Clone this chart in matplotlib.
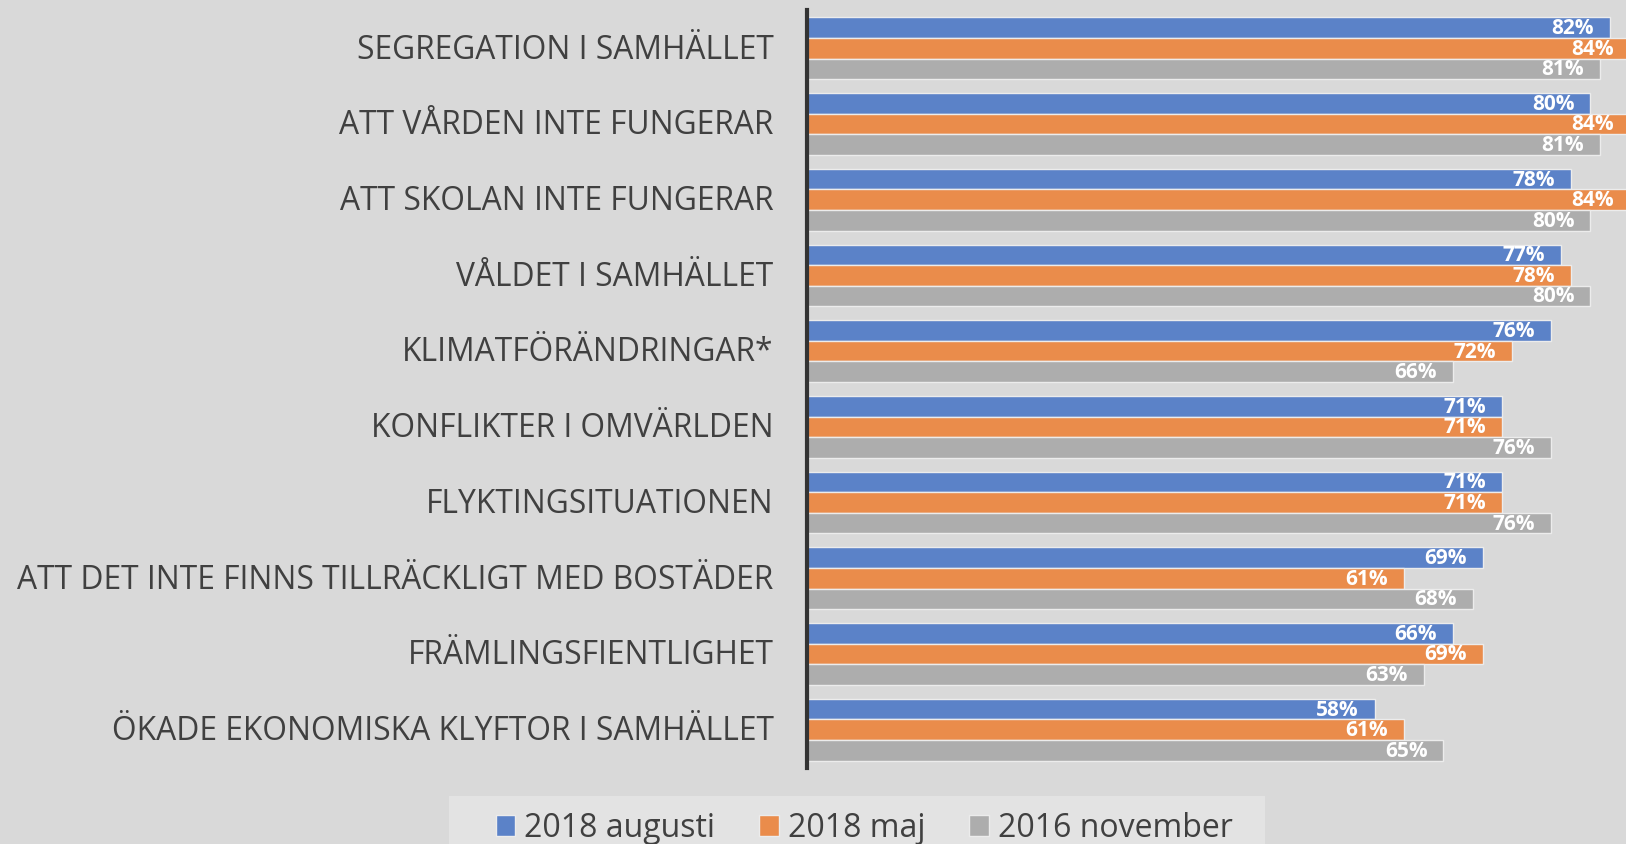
import matplotlib
matplotlib.use("Agg")
import matplotlib.pyplot as plt
from matplotlib.patches import Patch, Rectangle
from matplotlib.transforms import ScaledTranslation
import numpy as np

categories = [
    "SEGREGATION I SAMHÄLLET",
    "ATT VÅRDEN INTE FUNGERAR",
    "ATT SKOLAN INTE FUNGERAR",
    "VÅLDET I SAMHÄLLET",
    "KLIMATFÖRÄNDRINGAR*",
    "KONFLIKTER I OMVÄRLDEN",
    "FLYKTINGSITUATIONEN",
    "ATT DET INTE FINNS TILLRÄCKLIGT MED BOSTÄDER",
    "FRÄMLINGSFIENTLIGHET",
    "ÖKADE EKONOMISKA KLYFTOR I SAMHÄLLET",
]
series_names = ["2018 augusti", "2018 maj", "2016 november"]
aug_2018 = [82, 80, 78, 77, 76, 71, 71, 69, 66, 58]
maj_2018 = [84, 84, 84, 78, 72, 71, 71, 61, 69, 61]
nov_2016 = [81, 81, 80, 80, 66, 76, 76, 68, 63, 65]
colors = ["#5b82c8", "#ea8c4b", "#adadad"]

plt.rcParams["font.family"] = ["Open Sans", "DejaVu Sans"]

bg = "#d9d9d9"
fig = plt.figure(figsize=(16.26, 8.45), dpi=100, facecolor=bg)
ax = fig.add_axes([0.4963, 0.0905, 0.5037, 0.8960], facecolor=bg)

y = np.arange(len(categories))
h = 0.272
offsets = [-h, 0, h]
all_series = [aug_2018, maj_2018, nov_2016]
for vals, off, c, name in zip(all_series, offsets, colors, series_names):
    ax.barh(y + off, vals, height=h, color=c, edgecolor="#ececec",
            linewidth=1.0, label=name)
    for yy, v in zip(y + off, vals):
        ax.annotate(f"{v}%", xy=(v, yy), xytext=(-11.5, 0), textcoords="offset points",
                    ha="right", va="center", color="white", fontweight="bold",
                    fontsize=15, annotation_clip=False)

ax.set_xlim(0, 83.65)
ax.set_ylim(len(categories) - 0.5, -0.5)
ax.set_yticks(y)
ax.set_yticklabels(categories, fontsize=22.9, color="#404040")
ax.tick_params(axis="y", length=0, pad=24)
shift = ScaledTranslation(0, 2.3 / 72, fig.dpi_scale_trans)
for lab in ax.get_yticklabels():
    lab.set_transform(lab.get_transform() + shift)
ax.set_xticks([])
for s in ["top", "right", "bottom"]:
    ax.spines[s].set_visible(False)
ax.spines["left"].set_color("#333333")
ax.spines["left"].set_linewidth(3)

# legend background band
fig.patches.append(Rectangle((449 / 1626, 0), (1265 - 449) / 1626, (845 - 797) / 845,
                             transform=fig.transFigure, facecolor="#e3e3e3",
                             edgecolor="none", zorder=0))
handles = [Patch(facecolor=c, edgecolor="#ececec", label=n) for c, n in zip(colors, series_names)]
leg = fig.legend(handles=handles, loc="center", bbox_to_anchor=(0.5315, 0.019),
                 ncol=3, frameon=False, borderaxespad=0,
                 prop={"size": 23}, handlelength=0.62, handleheight=0.62,
                 handletextpad=0.28, columnspacing=1.37, borderpad=0.0)
for t in leg.get_texts():
    t.set_color("#404040")

fig.savefig("out.png", dpi=100, facecolor=bg)
